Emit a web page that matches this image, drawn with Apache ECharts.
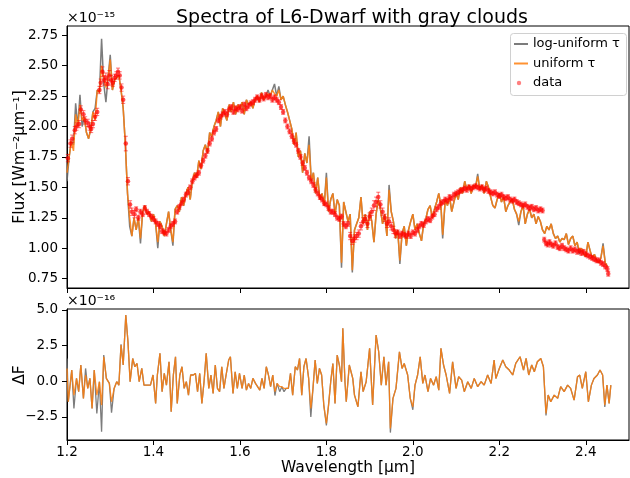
<!DOCTYPE html>
<html>
<head>
<meta charset="utf-8">
<script src="https://cdn.jsdelivr.net/npm/echarts@6.0.0/dist/echarts.min.js"></script>
<style>html,body{margin:0;padding:0;background:#fff;}#c{width:630px;height:478px;}</style>
</head>
<body>
<div id="c"></div>
<script>
// ---- DATA (flux in 1e-15 W m^-2 um^-1, residuals in 1e-16) ----
const xTicks = [1.2, 1.4, 1.6, 1.8, 2.0, 2.2, 2.4];
const fluxTicks = [0.75, 1.0, 1.25, 1.5, 1.75, 2.0, 2.25, 2.5, 2.75];
const resTicks = [-2.5, 0, 2.5, 5.0];

const modelUniform = [
[1.200,1.62],[1.205,1.75],[1.210,1.88],[1.215,1.80],[1.220,2.10],[1.225,2.00],[1.230,2.18],[1.235,2.05],[1.240,2.08],[1.245,1.95],
[1.250,1.90],[1.255,1.98],[1.260,2.12],[1.265,2.05],[1.270,2.30],[1.275,2.28],[1.280,2.50],[1.285,2.40],[1.290,2.32],[1.295,2.40],
[1.300,2.55],[1.305,2.30],[1.310,2.38],[1.315,2.40],[1.320,2.42],[1.325,2.30],[1.330,2.15],[1.335,1.85],[1.340,1.45],[1.345,1.25],
[1.350,1.10],[1.355,1.25],[1.360,1.15],[1.365,1.25],[1.370,1.08],[1.375,1.30],[1.380,1.35],[1.385,1.28],[1.390,1.30],[1.395,1.22],
[1.400,1.28],[1.405,1.20],[1.410,1.05],[1.415,1.22],[1.420,1.18],[1.425,1.10],[1.430,1.20],[1.435,1.30],[1.440,1.15],[1.445,1.05],
[1.450,1.32],[1.455,1.35],[1.460,1.30],[1.465,1.42],[1.470,1.35],[1.475,1.45],[1.480,1.50],[1.485,1.40],[1.490,1.55],[1.495,1.62],
[1.500,1.58],[1.505,1.72],[1.510,1.65],[1.515,1.80],[1.520,1.85],[1.525,1.78],[1.530,1.95],[1.535,1.92],[1.540,2.00],[1.545,2.05],
[1.550,2.12],[1.555,2.00],[1.560,2.15],[1.565,2.10],[1.570,2.05],[1.575,2.18],[1.580,2.12],[1.585,2.20],[1.590,2.10],[1.595,2.18],
[1.600,2.15],[1.605,2.20],[1.610,2.10],[1.615,2.22],[1.620,2.18],[1.625,2.20],[1.630,2.15],[1.635,2.22],[1.640,2.25],[1.645,2.20],
[1.650,2.28],[1.655,2.22],[1.660,2.25],[1.665,2.27],[1.670,2.25],[1.675,2.30],[1.680,2.27],[1.685,2.25],[1.690,2.30],[1.695,2.22],
[1.700,2.25],[1.705,2.18],[1.710,2.12],[1.715,2.05],[1.720,1.98],[1.725,1.85],[1.730,1.95],[1.735,1.75],[1.740,1.80],[1.745,1.62],
[1.750,1.78],[1.755,1.70],[1.760,1.85],[1.765,1.55],[1.770,1.62],[1.775,1.45],[1.780,1.58],[1.785,1.40],[1.790,1.45],[1.795,1.35],
[1.800,1.58],[1.805,1.30],[1.810,1.40],[1.815,1.45],[1.820,1.28],[1.825,1.40],[1.830,1.35],[1.835,0.88],[1.840,1.38],[1.845,1.30],
[1.850,1.22],[1.855,1.28],[1.860,0.82],[1.865,1.15],[1.870,1.20],[1.875,1.25],[1.880,1.42],[1.885,1.20],[1.890,1.28],[1.895,1.15],
[1.900,1.30],[1.905,1.22],[1.910,1.05],[1.915,1.28],[1.920,1.40],[1.925,1.32],[1.930,1.20],[1.935,1.28],[1.940,1.10],[1.945,1.48],
[1.950,1.30],[1.955,1.22],[1.960,1.08],[1.965,1.15],[1.970,0.90],[1.975,1.12],[1.980,1.18],[1.985,1.02],[1.990,1.15],[1.995,1.22],
[2.000,1.28],[2.005,1.15],[2.010,1.20],[2.015,1.12],[2.020,1.06],[2.025,1.20],[2.030,1.24],[2.035,1.32],[2.040,1.35],[2.045,1.25],
[2.050,1.32],[2.055,1.38],[2.060,1.45],[2.065,1.35],[2.069,1.11],[2.075,1.40],[2.080,1.35],[2.085,1.42],[2.090,1.30],[2.095,1.38],
[2.100,1.45],[2.105,1.40],[2.110,1.50],[2.115,1.45],[2.120,1.55],[2.125,1.48],[2.130,1.52],[2.135,1.45],[2.140,1.52],[2.145,1.50],
[2.150,1.59],[2.155,1.48],[2.160,1.52],[2.165,1.45],[2.170,1.55],[2.175,1.50],[2.180,1.42],[2.185,1.35],[2.190,1.33],[2.195,1.40],
[2.200,1.45],[2.205,1.38],[2.210,1.42],[2.215,1.30],[2.220,1.35],[2.225,1.38],[2.230,1.40],[2.235,1.32],[2.240,1.28],[2.245,1.22],
[2.250,1.30],[2.255,1.35],[2.260,1.20],[2.265,1.28],[2.270,1.32],[2.275,1.25],[2.280,1.28],[2.285,1.20],[2.290,1.26],[2.295,1.22],
[2.300,1.15],[2.305,1.12],[2.310,1.18],[2.315,1.15],[2.320,1.20],[2.325,1.12],[2.330,1.08],[2.335,1.10],[2.340,1.05],[2.345,1.08],
[2.350,1.07],[2.355,1.12],[2.360,1.03],[2.365,1.08],[2.370,1.10],[2.375,1.02],[2.380,1.05],[2.385,0.98],[2.390,1.00],[2.395,0.95],
[2.400,0.93],[2.405,1.05],[2.410,0.98],[2.415,0.92],[2.420,0.95],[2.425,0.90],[2.430,0.88],[2.435,0.92],[2.440,1.02],[2.445,0.88],
[2.450,0.85]
];

// points where the log-uniform model differs visibly from the uniform one
const modelLogDiff = [
[1.200,1.55],[1.215,1.85],[1.220,2.19],[1.230,2.26],[1.235,2.00],[1.265,2.15],[1.280,2.72],[1.285,2.35],[1.290,2.20],[1.300,2.59],
[1.345,1.18],[1.370,1.04],[1.410,1.00],[1.445,1.02],[1.665,2.30],[1.680,2.35],[1.690,2.33],[1.760,1.92],[1.800,1.62],[1.835,0.84],
[1.860,0.80],[1.945,1.52],[1.970,0.87],[2.069,1.08],[2.150,1.61],[2.245,1.19],[2.385,0.95],[2.440,1.04]
];

// observed spectrum: [wavelength, flux, error]
const obsData = [
[1.202,1.74,0.03],[1.208,1.86,0.03],[1.212,1.90,0.03],[1.218,1.97,0.03],[1.222,2.00,0.03],[1.228,2.02,0.03],[1.232,2.14,0.03],[1.238,2.10,0.03],
[1.242,2.05,0.03],[1.248,2.03,0.03],[1.252,2.00,0.03],[1.256,1.98,0.03],[1.260,2.02,0.03],[1.265,2.08,0.03],[1.270,2.12,0.03],[1.275,2.30,0.03],
[1.278,2.36,0.03],[1.282,2.45,0.04],[1.286,2.38,0.04],[1.290,2.40,0.04],[1.294,2.35,0.04],[1.298,2.42,0.04],[1.302,2.38,0.04],[1.306,2.36,0.03],
[1.310,2.40,0.03],[1.314,2.42,0.03],[1.318,2.45,0.03],[1.322,2.42,0.03],[1.326,2.32,0.03],[1.330,2.22,0.03],[1.336,1.86,0.06],[1.341,1.55,0.03],
[1.346,1.36,0.03],[1.350,1.30,0.03],[1.356,1.28,0.03],[1.360,1.32,0.02],[1.365,1.25,0.02],[1.370,1.30,0.02],[1.375,1.28,0.02],[1.380,1.33,0.02],
[1.385,1.30,0.02],[1.390,1.28,0.02],[1.395,1.26,0.02],[1.400,1.24,0.02],[1.405,1.22,0.02],[1.410,1.20,0.02],[1.415,1.18,0.02],[1.420,1.14,0.02],
[1.425,1.13,0.02],[1.430,1.12,0.02],[1.435,1.15,0.02],[1.440,1.18,0.02],[1.445,1.20,0.02],[1.450,1.22,0.02],[1.455,1.30,0.02],[1.460,1.34,0.02],
[1.465,1.37,0.02],[1.470,1.40,0.02],[1.475,1.44,0.02],[1.480,1.46,0.02],[1.485,1.50,0.02],[1.490,1.55,0.02],[1.495,1.58,0.02],[1.500,1.60,0.02],
[1.505,1.62,0.02],[1.510,1.68,0.02],[1.515,1.72,0.02],[1.520,1.76,0.02],[1.525,1.80,0.02],[1.530,1.86,0.02],[1.535,1.90,0.02],[1.540,1.95,0.02],
[1.545,1.98,0.02],[1.550,2.05,0.02],[1.555,2.08,0.02],[1.560,2.10,0.02],[1.565,2.12,0.02],[1.570,2.10,0.02],[1.575,2.14,0.02],[1.580,2.16,0.02],
[1.585,2.12,0.02],[1.590,2.15,0.02],[1.595,2.14,0.02],[1.600,2.16,0.02],[1.605,2.13,0.02],[1.610,2.18,0.02],[1.615,2.15,0.02],[1.620,2.17,0.02],
[1.625,2.19,0.02],[1.630,2.20,0.02],[1.635,2.22,0.02],[1.640,2.24,0.02],[1.645,2.22,0.02],[1.650,2.25,0.02],[1.655,2.23,0.02],[1.660,2.26,0.02],
[1.665,2.24,0.02],[1.670,2.25,0.02],[1.675,2.22,0.02],[1.680,2.24,0.02],[1.685,2.22,0.02],[1.690,2.20,0.02],[1.695,2.16,0.02],[1.700,2.12,0.02],
[1.705,2.05,0.02],[1.710,2.00,0.02],[1.715,1.96,0.02],[1.720,1.92,0.02],[1.725,1.88,0.02],[1.730,1.85,0.02],[1.735,1.80,0.02],[1.740,1.75,0.02],
[1.745,1.70,0.02],[1.750,1.66,0.02],[1.755,1.62,0.02],[1.760,1.58,0.02],[1.765,1.55,0.02],[1.770,1.52,0.02],[1.775,1.48,0.02],[1.780,1.45,0.02],
[1.785,1.42,0.02],[1.790,1.40,0.02],[1.795,1.37,0.02],[1.800,1.36,0.02],[1.805,1.33,0.02],[1.810,1.30,0.02],[1.815,1.30,0.02],[1.820,1.28,0.02],
[1.825,1.25,0.02],[1.830,1.24,0.02],[1.835,1.26,0.02],[1.840,1.20,0.02],[1.845,1.18,0.02],[1.850,1.20,0.02],[1.855,1.10,0.03],[1.860,1.06,0.03],
[1.865,1.08,0.03],[1.870,1.10,0.03],[1.875,1.12,0.03],[1.880,1.18,0.03],[1.885,1.22,0.03],[1.890,1.24,0.03],[1.895,1.20,0.03],[1.900,1.26,0.03],
[1.905,1.30,0.03],[1.910,1.35,0.04],[1.915,1.38,0.04],[1.920,1.42,0.04],[1.925,1.36,0.03],[1.930,1.30,0.03],[1.935,1.25,0.03],[1.940,1.20,0.03],
[1.945,1.22,0.03],[1.950,1.18,0.03],[1.955,1.15,0.03],[1.960,1.12,0.03],[1.965,1.13,0.02],[1.970,1.10,0.02],[1.975,1.12,0.02],[1.980,1.11,0.02],
[1.985,1.10,0.02],[1.990,1.12,0.02],[1.995,1.10,0.02],[2.000,1.13,0.02],[2.005,1.12,0.02],[2.010,1.15,0.02],[2.015,1.18,0.02],[2.020,1.20,0.02],
[2.025,1.19,0.02],[2.030,1.22,0.02],[2.035,1.24,0.02],[2.040,1.23,0.02],[2.045,1.26,0.02],[2.050,1.28,0.02],[2.055,1.32,0.02],[2.060,1.34,0.02],
[2.065,1.37,0.02],[2.070,1.38,0.02],[2.075,1.40,0.02],[2.080,1.39,0.02],[2.085,1.42,0.02],[2.090,1.41,0.02],[2.095,1.44,0.02],[2.100,1.45,0.02],
[2.105,1.46,0.02],[2.110,1.47,0.02],[2.115,1.48,0.02],[2.120,1.49,0.02],[2.125,1.48,0.02],[2.130,1.50,0.02],[2.135,1.49,0.02],[2.140,1.50,0.02],
[2.145,1.51,0.02],[2.150,1.50,0.02],[2.155,1.49,0.02],[2.160,1.50,0.02],[2.165,1.48,0.02],[2.170,1.49,0.02],[2.175,1.47,0.02],[2.180,1.46,0.02],
[2.185,1.45,0.02],[2.190,1.46,0.02],[2.195,1.44,0.02],[2.200,1.43,0.02],[2.205,1.44,0.02],[2.210,1.42,0.02],[2.215,1.41,0.02],[2.220,1.42,0.02],
[2.225,1.40,0.02],[2.230,1.39,0.02],[2.235,1.40,0.02],[2.240,1.38,0.02],[2.245,1.37,0.02],[2.250,1.36,0.02],[2.255,1.35,0.02],[2.260,1.36,0.02],
[2.265,1.34,0.02],[2.270,1.33,0.02],[2.275,1.34,0.02],[2.280,1.32,0.02],[2.285,1.33,0.02],[2.290,1.31,0.02],[2.295,1.32,0.02],[2.300,1.31,0.02],
[2.304,1.07,0.02],[2.308,1.04,0.02],[2.312,1.03,0.02],[2.316,1.05,0.02],[2.320,1.03,0.02],[2.325,1.02,0.02],[2.330,1.04,0.02],[2.335,1.01,0.02],
[2.340,1.00,0.02],[2.345,1.02,0.02],[2.350,1.00,0.02],[2.355,0.99,0.02],[2.360,0.98,0.02],[2.365,1.00,0.02],[2.370,0.98,0.02],[2.375,0.99,0.02],
[2.380,0.97,0.02],[2.385,0.98,0.02],[2.390,0.96,0.02],[2.395,0.97,0.02],[2.400,0.95,0.02],[2.405,0.94,0.02],[2.410,0.93,0.02],[2.415,0.92,0.02],
[2.420,0.91,0.02],[2.425,0.90,0.02],[2.430,0.90,0.02],[2.435,0.88,0.02],[2.440,0.87,0.02],[2.445,0.85,0.02],[2.450,0.83,0.02],[2.452,0.79,0.02]
];

// residuals (data - model), 1e-16
const resUniform = [
[1.200,0.90],[1.203,-1.44],[1.211,0.79],[1.216,-0.97],[1.222,0.20],[1.227,-0.73],[1.232,1.14],[1.238,-1.20],[1.243,0.44],[1.248,-0.50],
[1.253,0.20],[1.258,-1.91],[1.263,0.79],[1.269,-0.97],[1.275,-0.03],[1.280,-1.67],[1.285,1.72],[1.291,0.20],[1.298,-0.15],[1.303,-1.44],
[1.309,-0.50],[1.315,-0.03],[1.320,-0.27],[1.325,2.54],[1.330,1.14],[1.336,4.65],[1.341,2.78],[1.346,-0.03],[1.352,1.60],[1.357,1.02],
[1.362,1.25],[1.367,-0.03],[1.373,0.90],[1.378,-0.27],[1.382,-0.27],[1.388,-0.27],[1.393,-0.27],[1.399,0.44],[1.405,-1.55],[1.409,0.44],
[1.415,1.96],[1.420,-0.73],[1.425,0.55],[1.430,-0.27],[1.436,1.37],[1.441,-2.14],[1.446,0.44],[1.451,1.72],[1.455,-1.55],[1.461,0.44],
[1.466,1.02],[1.471,-0.50],[1.476,-0.03],[1.481,-0.97],[1.486,0.44],[1.492,0.44],[1.497,0.55],[1.502,-0.73],[1.507,0.55],[1.512,-1.55],
[1.517,-0.03],[1.522,1.96],[1.528,-0.50],[1.533,0.44],[1.538,-0.85],[1.543,1.14],[1.548,-0.50],[1.553,-0.73],[1.558,1.02],[1.563,-0.50],
[1.568,0.44],[1.574,1.49],[1.578,1.72],[1.584,-0.85],[1.589,0.67],[1.594,-0.50],[1.599,0.55],[1.605,-0.50],[1.610,0.44],[1.615,-0.62],
[1.620,-0.15],[1.625,-0.50],[1.630,0.20],[1.636,-0.15],[1.640,-0.03],[1.646,-0.62],[1.651,0.20],[1.656,-0.50],[1.661,1.02],[1.666,0.44],
[1.671,-0.38],[1.676,0.44],[1.681,-0.73],[1.686,-0.15],[1.692,-0.38],[1.697,-0.38],[1.702,-0.50],[1.707,-0.50],[1.712,-0.50],[1.717,0.55],
[1.722,-0.97],[1.728,1.02],[1.733,0.79],[1.738,1.60],[1.743,-0.97],[1.748,1.02],[1.753,1.60],[1.759,0.20],[1.764,-1.91],[1.769,-0.50],
[1.774,1.49],[1.779,-0.15],[1.784,0.90],[1.789,0.44],[1.794,-1.67],[1.800,-2.96],[1.805,-1.67],[1.810,-0.03],[1.815,1.25],[1.820,-1.55],
[1.825,1.84],[1.830,1.14],[1.835,-0.03],[1.838,3.71],[1.843,-0.03],[1.846,-1.44],[1.853,1.14],[1.861,0.20],[1.865,-0.97],[1.873,-1.79],
[1.880,0.67],[1.885,-0.73],[1.892,-0.03],[1.900,2.31],[1.907,-1.67],[1.915,3.24],[1.921,2.07],[1.927,-0.27],[1.933,1.72],[1.938,-0.27],
[1.944,1.37],[1.948,-3.31],[1.954,-1.20],[1.961,-0.50],[1.969,2.07],[1.975,0.90],[1.980,1.25],[1.988,0.44],[1.994,-1.20],[2.000,-1.79],
[2.005,-0.27],[2.011,0.44],[2.017,1.72],[2.023,-0.15],[2.028,0.44],[2.035,-0.73],[2.041,0.20],[2.048,-0.27],[2.054,0.32],[2.060,-0.62],
[2.065,2.31],[2.071,1.14],[2.077,0.44],[2.085,-0.85],[2.092,1.37],[2.100,-0.50],[2.106,0.32],[2.113,0.08],[2.119,-0.73],[2.127,-0.03],
[2.135,-0.50],[2.142,0.20],[2.150,-0.38],[2.158,-0.03],[2.165,-0.27],[2.173,0.44],[2.181,-0.15],[2.188,1.49],[2.192,0.20],[2.200,0.90],
[2.208,1.49],[2.215,1.02],[2.223,0.79],[2.231,0.44],[2.238,1.25],[2.248,1.72],[2.256,0.79],[2.262,1.60],[2.268,0.44],[2.275,1.14],
[2.281,0.67],[2.288,1.37],[2.296,1.60],[2.302,1.02],[2.308,-2.26],[2.313,-0.97],[2.319,-1.44],[2.327,-0.97],[2.335,-1.20],[2.342,-0.38],
[2.350,-0.73],[2.358,-0.27],[2.365,-0.50],[2.373,-1.32],[2.381,0.32],[2.386,0.44],[2.392,-0.50],[2.400,0.67],[2.406,-1.44],[2.413,-0.27],
[2.419,0.20],[2.427,0.44],[2.433,0.79],[2.439,0.44],[2.444,-1.67],[2.449,-0.27],[2.454,-1.55],[2.458,-0.27]
];

// points where the log-uniform residual differs visibly
const resLogDiff = [
[1.200,1.60],[1.216,-1.90],[1.243,0.90],[1.269,-2.26],[1.280,-3.54],[1.285,1.84],[1.303,-2.20],[1.325,2.60],[1.681,-1.00],[1.692,-0.73],
[1.702,-0.73],[1.764,-2.50],[1.800,-3.10],[1.948,-3.60],[2.000,-2.00],[2.308,-2.40],[2.444,-1.80]
];

// ---- build ----
function applyDiff(base, diff) {
  const m = new Map(diff.map(d => [d[0].toFixed(3), d[1]]));
  return base.map(p => m.has(p[0].toFixed(3)) ? [p[0], m.get(p[0].toFixed(3))] : p);
}
const modelLog = applyDiff(modelUniform, modelLogDiff);
const resLog = applyDiff(resUniform, resLogDiff);

const FONT = 'DejaVu Sans';
const GRAY = 'rgba(110,110,110,0.9)';
const ORANGE = 'rgba(255,127,14,0.85)';
const minusFmt = (v, d) => v.toFixed(d).replace('-', '\u2212');

const chart = echarts.init(document.getElementById('c'), null, {renderer: 'canvas'});

function xAxisCfg(gridIndex, showLabels) {
  return {
    type: 'value', gridIndex, min: 1.2, max: 2.5,
    axisLine: {show: true, onZero: false, lineStyle: {color: '#000', width: 1}},
    axisTick: {show: true, length: 5, lineStyle: {color: '#000'}, customValues: xTicks},
    axisLabel: {show: showLabels, customValues: xTicks, color: '#000', fontFamily: FONT, fontSize: 13.5, margin: 5,
      formatter: v => v.toFixed(1)},
    splitLine: {show: false}
  };
}
function yAxisCfg(gridIndex, min, max, ticks, dec) {
  return {
    type: 'value', gridIndex, min, max,
    axisLine: {show: true, onZero: false, lineStyle: {color: '#000'}},
    axisTick: {show: true, length: 5, lineStyle: {color: '#000'}, customValues: ticks},
    axisLabel: {customValues: ticks, color: '#000', fontFamily: FONT, fontSize: 13.5, margin: 9, formatter: v => minusFmt(v, dec)},
    splitLine: {show: false}
  };
}

const option = {
  animation: false,
  backgroundColor: '#fff',
  title: {
    text: 'Spectra of L6-Dwarf with gray clouds', left: 347, top: 4, textAlign: 'center',
    textStyle: {fontFamily: FONT, fontSize: 19, fontWeight: 'normal', color: '#000'}
  },
  grid: [
    {left: 67, right: 1, top: 26, height: 262, show: true, borderColor: '#000', borderWidth: 1, backgroundColor: 'transparent', outerBoundsMode: 'none', containLabel: false},
    {left: 67, right: 1, top: 309, height: 131, show: true, borderColor: '#000', borderWidth: 1, backgroundColor: 'transparent', outerBoundsMode: 'none', containLabel: false}
  ],
  xAxis: [xAxisCfg(0, false), xAxisCfg(1, true)],
  yAxis: [yAxisCfg(0, 0.673, 2.826, fluxTicks, 2), yAxisCfg(1, -4.12, 5.07, resTicks, 1)],
  series: [
    {name: 'log-uniform \u03c4', type: 'line', xAxisIndex: 0, yAxisIndex: 0, data: modelLog, symbol: 'none',
      lineStyle: {color: GRAY, width: 1.5}, z: 2},
    {name: 'uniform \u03c4', type: 'line', xAxisIndex: 0, yAxisIndex: 0, data: modelUniform, symbol: 'none',
      lineStyle: {color: ORANGE, width: 1.5}, z: 3},
    {name: 'errors', type: 'custom', xAxisIndex: 0, yAxisIndex: 0, data: obsData, z: 4,
      renderItem: function (params, api) {
        const x = api.value(0), y = api.value(1), e = api.value(2);
        const t = api.coord([x, y + e]), b = api.coord([x, y - e]);
        const st = {stroke: 'rgba(255,0,0,0.55)', lineWidth: 1};
        return {type: 'group', children: [
          {type: 'line', shape: {x1: t[0], y1: t[1], x2: b[0], y2: b[1]}, style: st},
          {type: 'line', shape: {x1: t[0] - 2, y1: t[1], x2: t[0] + 2, y2: t[1]}, style: st},
          {type: 'line', shape: {x1: b[0] - 2, y1: b[1], x2: b[0] + 2, y2: b[1]}, style: st}
        ]};
      },
      encode: {x: 0, y: 1}
    },
    {name: 'data', type: 'scatter', xAxisIndex: 0, yAxisIndex: 0, data: obsData.map(d => [d[0], d[1]]),
      symbolSize: 4.5, itemStyle: {color: 'rgba(255,0,0,0.85)'}, z: 5},
    {name: 'res log', type: 'line', xAxisIndex: 1, yAxisIndex: 1, data: resLog, symbol: 'none',
      lineStyle: {color: GRAY, width: 1.3}, z: 2},
    {name: 'res uni', type: 'line', xAxisIndex: 1, yAxisIndex: 1, data: resUniform, symbol: 'none',
      lineStyle: {color: ORANGE, width: 1.3}, z: 3}
  ],
  graphic: [
    {type: 'text', x: 20, y: 157, rotation: Math.PI / 2,
      style: {text: 'Flux [Wm\u207b\u00b2\u03bcm\u207b\u00b9]', font: '15.5px "DejaVu Sans"', fill: '#000', align: 'center', verticalAlign: 'middle'}},
    {type: 'text', x: 20, y: 375, rotation: Math.PI / 2,
      style: {text: '\u0394F', font: '15.5px "DejaVu Sans"', fill: '#000', align: 'center', verticalAlign: 'middle'}},
    {type: 'text', x: 348, y: 468,
      style: {text: 'Wavelength [\u03bcm]', font: '15.5px "DejaVu Sans"', fill: '#000', align: 'center', verticalAlign: 'middle'}},
    {type: 'text', left: 67, top: 11, style: {text: '\u00d710\u207b\u00b9\u2075', font: '14px "DejaVu Sans"', fill: '#000'}},
    {type: 'text', left: 67, top: 294, style: {text: '\u00d710\u207b\u00b9\u2076', font: '14px "DejaVu Sans"', fill: '#000'}},
    {type: 'rect', shape: {x: 510.5, y: 33.5, width: 116, height: 62, r: 3}, style: {fill: 'rgba(255,255,255,0.8)', stroke: '#d0d0d0', lineWidth: 1}, z: 10},
    {type: 'line', shape: {x1: 514, y1: 44, x2: 528, y2: 44}, style: {stroke: GRAY, lineWidth: 2}, z: 11},
    {type: 'text', x: 533, y: 44, style: {text: 'log-uniform \u03c4', font: '13px "DejaVu Sans"', fill: '#000', verticalAlign: 'middle'}, z: 11},
    {type: 'line', shape: {x1: 514, y1: 63.5, x2: 528, y2: 63.5}, style: {stroke: ORANGE, lineWidth: 2}, z: 11},
    {type: 'text', x: 533, y: 63.5, style: {text: 'uniform \u03c4', font: '13px "DejaVu Sans"', fill: '#000', verticalAlign: 'middle'}, z: 11},
    {type: 'circle', shape: {cx: 519, cy: 83, r: 2.2}, style: {fill: 'rgba(255,0,0,0.5)'}, z: 11},
    {type: 'text', x: 533, y: 83, style: {text: 'data', font: '13px "DejaVu Sans"', fill: '#000', verticalAlign: 'middle'}, z: 11}
  ]
};
chart.setOption(option);
</script>
</body>
</html>
